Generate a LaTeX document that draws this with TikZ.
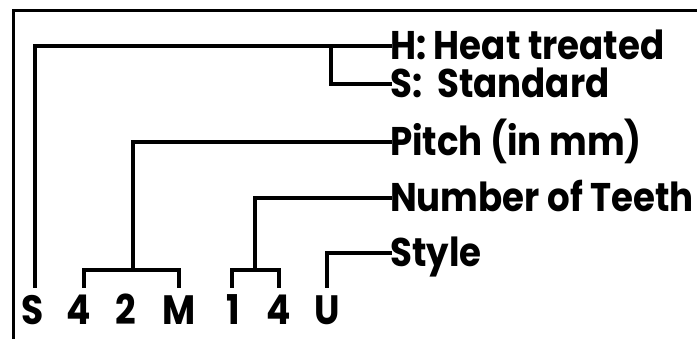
\documentclass[tikz,border=0pt]{standalone}
\usepackage{fontspec}
\setmainfont{Poppins}
\newfontfamily\labfont[FakeStretch=0.89]{Poppins}
\newfontfamily\letfont[FakeStretch=0.88]{Poppins}
\begin{document}
\begin{tikzpicture}[x=1pt,y=-1pt,
  wire/.style={line width=4.3pt,line cap=rect},
  lab/.style={anchor=west,inner sep=0pt,text height=28pt,text depth=0pt,font=\labfont\bfseries\fontsize{40}{40}\selectfont},
  letter/.style={anchor=base,inner sep=0pt,font=\letfont\bfseries\fontsize{41}{41}\selectfont}]
\useasboundingbox (0,0) rectangle (697,339);
% frame
\draw[line width=3.5pt] (700,10.5) -- (13.5,10.5) -- (13.5,342);
% letters
\node[letter] (lS) at (33,325) {S};
\node[letter] (l4a) at (79,325) {4};
\node[letter] (l2) at (126,325) {2};
\node[letter] (lM) at (179,325) {M};
\node[letter] (l1) at (233,325) {1};
\node[letter] (l4b) at (279,325) {4};
\node[letter] (lU) at (327,325) {U};
% labels
\node[lab] (hH) at (390,46) {H: Heat treated};
\node[lab] (hS) at (390,84) {S:\ \ Standard};
\node[lab] (hP) at (390,142) {Pitch (in mm)};
\node[lab] (hN) at (390,198) {Number of Teeth};
\node[lab] (hSt) at (390,253) {Style};
% leg ends
\coordinate (cS) at (35,286);
\coordinate (c4a) at (84,286);
\coordinate (cM) at (179,286);
\coordinate (c1) at (232,286);
\coordinate (c4b) at (279,286);
\coordinate (cU) at (327,286);
\coordinate (bH) at (331,46);
\coordinate (bP) at (133,270);
\coordinate (bN) at (255,270);
% connectors
\draw[wire] (cS) |- (hH.west);
\draw[wire] (bH) |- (hS.west);
\draw[wire] (c4a) |- (bP) -| (cM);
\draw[wire] (bP) |- (hP.west);
\draw[wire] (c1) |- (bN) -| (c4b);
\draw[wire] (bN) |- (hN.west);
\draw[wire] (cU) |- (hSt.west);
\end{tikzpicture}
\end{document}
